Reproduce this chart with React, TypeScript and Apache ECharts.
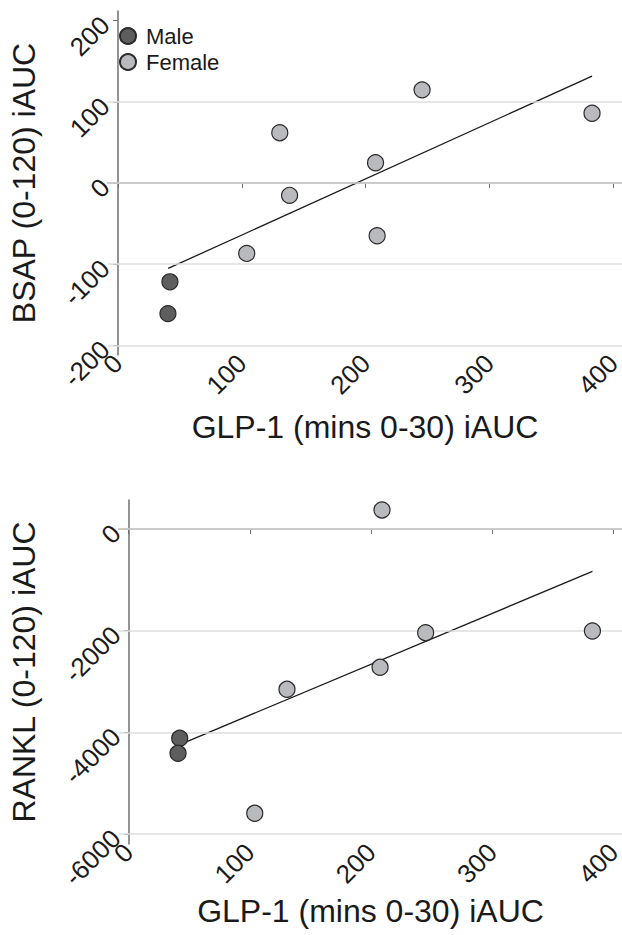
import React, { useEffect, useRef } from "react";
import * as echarts from "echarts";

const xTicks = [0, 100, 200, 300, 400];
const xRange = [-8, 407];

const bsapTicks = [-200, -100, 0, 100, 200];
const bsapGridLines = [-200, -100, 0, 100];
const bsapRange = [-212, 212];
const maleBsap = [
  [42, -121.8],
  [40.4, -161],
];
const femaleBsap = [
  [104, -86.8],
  [130.7, 62],
  [138.6, -15.2],
  [208, 25],
  [209.3, -65],
  [245.6, 114.8],
  [382.8, 86],
];
const fitBsap = [
  [40.6, -105.3],
  [382.8, 131.7],
];

const ranklTicks = [-6000, -4000, -2000, 0];
const ranklGridLines = [-6000, -4000, -2000, 0];
const ranklRange = [-6197, 570];
const maleRankl = [
  [42.1, -4118],
  [40.7, -4413],
];
const femaleRankl = [
  [104, -5593],
  [130.6, -3154],
  [209, 374],
  [207.4, -2721],
  [245, -2040],
  [382.6, -2007],
];
const fitRankl = [
  [40.7, -4255],
  [382.6, -833],
];

const xTitle = "GLP-1 (mins 0-30) iAUC";
const yTitles = ["BSAP (0-120) iAUC", "RANKL (0-120) iAUC"];

const FONT = "Liberation Sans, Arial, Helvetica, sans-serif";
const MALE = "#5e5e5e";
const FEMALE = "#b9babd";
const BORDER = "#2a2a2a";

export default function App() {
  const ref = useRef<HTMLDivElement>(null);
  useEffect(() => {
    if (!ref.current) return;
    const chart = echarts.init(ref.current, null, { renderer: "svg" });
    const axisLine = { show: true, lineStyle: { color: "#6f6f6f", width: 1.5 } };
    const axisTick = (vals: number[]) => ({
      show: true,
      length: 5,
      lineStyle: { color: "#6f6f6f", width: 1 },
      customValues: vals,
    });
    const axisLabel = (vals: number[], margin: number) => ({
      rotate: 45,
      fontSize: 26,
      fontFamily: FONT,
      color: "#1a1a1a",
      margin,
      customValues: vals,
      formatter: (v: number) => String(v),
    });
    const xAxis = (gridIndex: number, nameGap: number) => ({
      type: "value",
      gridIndex,
      min: xRange[0],
      max: xRange[1],
      axisLine,
      axisTick: axisTick(xTicks),
      axisLabel: axisLabel(xTicks, 4),
      splitLine: { show: false },
      name: xTitle,
      nameLocation: "middle",
      nameGap,
      nameTextStyle: { fontSize: 32, fontFamily: FONT, color: "#1a1a1a" },
    });
    const yAxis = (
      gridIndex: number,
      range: number[],
      ticks: number[],
      title: string,
      nameGap: number
    ) => ({
      type: "value",
      gridIndex,
      min: range[0],
      max: range[1],
      axisLine,
      axisTick: axisTick(ticks),
      axisLabel: axisLabel(ticks, 3),
      splitLine: { show: false },
      name: title,
      nameLocation: "middle",
      nameRotate: 90,
      nameGap,
      nameTextStyle: { fontSize: 32, fontFamily: FONT, color: "#1a1a1a" },
    });
    const gridMark = (vals: number[]) => ({
      silent: true,
      symbol: ["none", "none"],
      label: { show: false },
      lineStyle: { color: "#dedede", width: 1.5, type: "solid" },
      data: vals.map((v) => ({ yAxis: v })),
    });
    const scatter = (
      name: string,
      data: number[][],
      color: string,
      idx: number
    ) => ({
      type: "scatter",
      name,
      xAxisIndex: idx,
      yAxisIndex: idx,
      data,
      symbol: "circle",
      symbolSize: 16,
      itemStyle: { color, borderColor: BORDER, borderWidth: 1.2, opacity: 1 },
      z: 5,
    });
    const fit = (data: number[][], idx: number, grid: number[]) => ({
      type: "line",
      xAxisIndex: idx,
      yAxisIndex: idx,
      data,
      symbol: "none",
      lineStyle: { color: "#1a1a1a", width: 1.3 },
      z: 3,
      markLine: gridMark(grid),
    });
    chart.setOption({
      animation: false,
      backgroundColor: "#ffffff",
      textStyle: { fontFamily: FONT },
      legend: {
        show: true,
        data: ["Male", "Female"],
        orient: "vertical",
        left: 119,
        top: 25,
        padding: 0,
        itemWidth: 26,
        itemHeight: 16,
        itemGap: 4,
        icon: "circle",
        selectedMode: false,
        textStyle: { fontSize: 22, fontFamily: FONT, color: "#1a1a1a" },
      },
      grid: [
        { left: 108, top: 11, width: 514, height: 344, containLabel: false, outerBoundsMode: "none" },
        { left: 119, top: 500, width: 503, height: 344, containLabel: false, outerBoundsMode: "none" },
      ],
      xAxis: [xAxis(0, 56), xAxis(1, 51)],
      yAxis: [
        yAxis(0, bsapRange, bsapTicks, yTitles[0], 68),
        yAxis(1, ranklRange, ranklTicks, yTitles[1], 79),
      ],
      series: [
        fit(fitBsap, 0, bsapGridLines),
        scatter("Male", maleBsap, MALE, 0),
        scatter("Female", femaleBsap, FEMALE, 0),
        fit(fitRankl, 1, ranklGridLines),
        scatter("Male", maleRankl, MALE, 1),
        scatter("Female", femaleRankl, FEMALE, 1),
      ],
    });
    return () => chart.dispose();
  }, []);
  return (
    <div
      ref={ref}
      style={{ position: "absolute", left: 0, top: 0, width: 622, height: 935 }}
    />
  );
}
